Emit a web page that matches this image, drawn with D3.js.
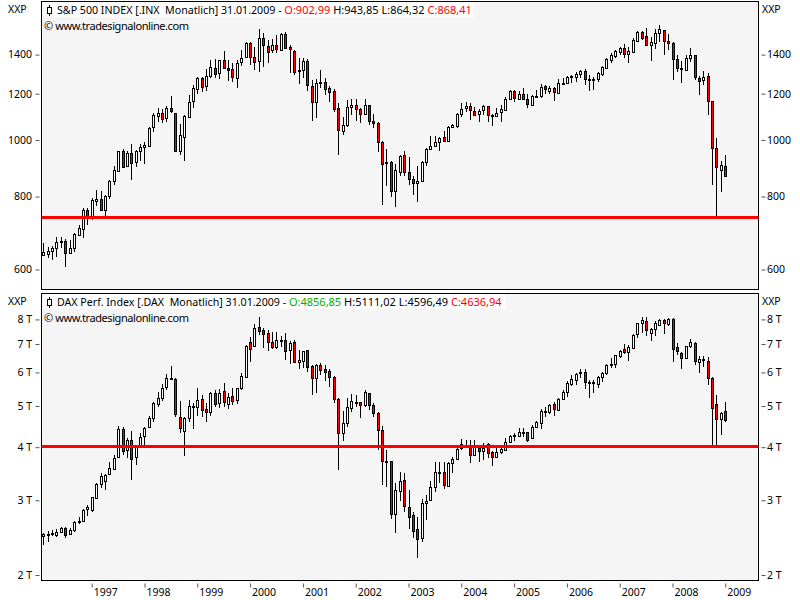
<!DOCTYPE html>
<html>
<head>
<meta charset="utf-8">
<script src="https://cdnjs.cloudflare.com/ajax/libs/d3/7.8.5/d3.min.js"></script>
<style>
  html, body { margin: 0; padding: 0; background: #fff; }
  svg { display: block; }
  text { font-family: "Noto Sans", "Open Sans", sans-serif; font-size: 10.5px; fill: #000; }
</style>
</head>
<body>
<div id="chart"></div>
<script>
// monthly bars, Feb 1996 to Jan 2009
const N_BARS = 156;
const YEAR_LABELS = ['1997', '1998', '1999', '2000', '2001', '2002', '2003', '2004', '2005', '2006', '2007', '2008', '2009'];
const YEAR_BARS = [11, 23, 35, 47, 59, 71, 83, 95, 107, 119, 131, 143, 155];

// S&P 500
const spxOpen = [635,639,646,654,668,672,639,652,687,704,759,739,787,792,757,803,849,884,958,901,950,915,956,972,979,1051,1100,1111,1087,1132,1111,956,1013,1096,1163,1226,1278,1234,1283,1329,1298,1368,1326,1321,1278,1361,1384,1467,1388,1363,1492,1450,1421,1452,1425,1516,1440,1421,1314,1314,1363,1236,1160,1250,1255,1226,1211,1132,1037,1061,1137,1146,1128,1105,1146,1076,1069,993,913,916,816,883,942,881,857,842,849,916,965,975,990,1011,998,1051,1058,1108,1131,1141,1123,1105,1121,1141,1100,1100,1115,1126,1174,1211,1177,1200,1177,1149,1186,1189,1236,1215,1226,1203,1245,1250,1280,1280,1298,1310,1268,1270,1273,1296,1327,1372,1392,1410,1435,1400,1416,1478,1530,1506,1452,1467,1522,1540,1475,1463,1374,1326,1322,1383,1396,1277,1267,1285,1165,967,888,902.99];
const spxHigh = [665,656,658,681,681,676,674,692,715,764,764,795,822,818,805,855,903,958,966,956,985,962,985,990,1051,1111,1132,1128,1144,1190,1114,1065,1103,1193,1242,1280,1280,1321,1370,1374,1370,1420,1370,1352,1370,1425,1469,1473,1444,1548,1526,1482,1486,1512,1522,1528,1454,1425,1384,1379,1374,1267,1270,1317,1275,1237,1221,1155,1096,1171,1175,1175,1132,1175,1147,1108,1072,995,965,920,910,944,958,935,866,901,922,969,1016,1016,1013,1037,1057,1064,1114,1155,1160,1158,1140,1128,1147,1143,1106,1132,1147,1186,1218,1218,1213,1226,1200,1196,1218,1245,1242,1237,1234,1270,1275,1287,1291,1308,1317,1321,1291,1283,1308,1338,1384,1407,1425,1440,1459,1440,1492,1536,1538,1552,1502,1546,1572,1542,1516,1469,1398,1366,1398,1435,1398,1287,1312,1303,1166,1007,921,943.85];
const spxLow = [632,627,622,631,652,606,637,642,686,678,715,730,771,757,741,793,838,883,897,901,855,899,919,910,979,1030,1075,1071,1075,1111,956,941,922,1096,1135,1198,1209,1215,1275,1275,1272,1322,1264,1258,1229,1340,1384,1343,1317,1308,1335,1355,1410,1410,1421,1429,1303,1291,1247,1275,1215,1079,1092,1226,1193,1163,1118,944,1020,1054,1103,1079,1068,1103,1061,1047,952,775,833,800,769,866,866,838,805,784,847,903,962,971,958,990,998,1050,1047,1096,1118,1082,1103,1075,1103,1075,1057,1096,1075,1125,1174,1163,1175,1171,1132,1143,1182,1180,1198,1200,1168,1198,1242,1245,1250,1258,1275,1242,1215,1218,1258,1287,1322,1352,1384,1398,1379,1357,1407,1473,1482,1450,1365,1431,1473,1398,1425,1267,1308,1253,1321,1361,1267,1193,1242,1103,838,741,816,864.32];
const spxClose = [642,646,654,670,671,641,652,689,706,758,737,790,792,757,801,851,888,956,901,950,915,956,972,981,1049,1102,1111,1087,1132,1117,956,1019,1099,1163,1226,1278,1234,1285,1331,1298,1368,1326,1315,1278,1357,1384,1465,1388,1363,1492,1450,1416,1452,1429,1518,1433,1427,1308,1317,1363,1239,1160,1250,1255,1220,1209,1129,1037,1061,1137,1146,1126,1106,1146,1075,1067,990,912,915,816,888,940,882,857,842,849,916,965,976,992,1007,994,1053,1061,1109,1128,1141,1122,1105,1119,1141,1100,1103,1114,1128,1174,1211,1177,1200,1177,1153,1191,1191,1231,1221,1228,1207,1250,1250,1280,1287,1295,1312,1270,1272,1273,1302,1333,1374,1398,1418,1435,1400,1418,1482,1530,1496,1452,1469,1526,1546,1475,1461,1374,1326,1321,1384,1398,1278,1264,1280,1163,969,897,905,868.41];

// DAX
const daxOpen = [2463,2494,2494,2494,2522,2577,2499,2545,2662,2686,2856,2836,3031,3265,3319,3447,3542,3787,4409,3927,4153,3801,4013,4260,4473,4672,5059,5236,5528,5814,5803,4706,4353,4706,4977,4959,5189,4915,4835,5360,5068,5419,5059,5274,5151,5498,5856,7069,6904,7695,7557,7422,7069,6867,7145,7171,6792,7069,6341,6410,6768,6205,5814,6239,6105,6039,5846,5189,4306,4547,4968,5104,5104,5013,5360,5022,4809,4385,3699,3706,2775,3149,3343,2898,2770,2563,2436,2951,2995,3218,3485,3491,3248,3659,3740,3977,4027,4013,3842,3977,3919,4071,3891,3780,3884,3955,4100,4252,4237,4322,4338,4191,4449,4571,4835,4826,5050,4906,5189,5389,5639,5762,5974,6006,5690,5680,5639,5835,5985,6228,6284,6563,6804,6695,6879,7369,7836,7922,7422,7584,7765,7965,7807,8008,6879,6659,6480,6929,7056,6364,6422,6376,5835,5050,4655,4856.85];
const daxHigh = [2508,2545,2554,2563,2591,2600,2577,2686,2745,2856,2925,3059,3289,3472,3460,3699,3835,4489,4473,4199,4369,4049,4314,4473,4740,5123,5409,5639,5952,6216,5825,5142,4723,5170,5077,5508,5312,5077,5389,5458,5478,5659,5360,5508,5528,5995,6967,7263,7807,8095,7626,7557,7462,7489,7316,7449,7119,7158,6780,6756,6768,6239,6284,6307,6250,6105,5888,5217,4870,5217,5341,5312,5123,5458,5380,5077,4835,4489,3941,3713,3301,3491,3479,3172,2810,2735,3014,3087,3331,3686,3686,3699,3699,3801,4013,4184,4161,4161,4161,4049,4086,4100,3927,4013,4049,4199,4275,4330,4433,4433,4353,4514,4621,4915,4986,5050,5123,5217,5458,5741,5920,5974,6105,6105,5762,5762,5888,6028,6284,6480,6599,6780,6992,6967,7382,7836,8095,8095,7653,7950,8008,8023,8051,8051,7030,6719,6942,7184,7069,6563,6563,6515,5846,5312,4835,5111.02];
const daxLow = [2354,2396,2472,2463,2517,2440,2485,2531,2638,2672,2755,2820,3020,3200,3172,3441,3536,3780,3835,3780,3349,3633,3977,4013,4473,4596,4986,5151,5458,5762,4723,4330,3821,4596,4417,4740,4723,4588,4740,4986,4959,4986,4924,5032,5059,5458,5814,6364,6879,7355,6867,6743,6804,6804,6879,6422,6272,6330,6105,6138,6028,5312,5360,5920,5741,5538,5095,3536,4146,4473,4853,4968,4697,4986,4897,4723,3941,3260,3230,2711,2517,2995,2820,2567,2440,2197,2396,2696,2995,3132,3289,3189,3218,3472,3733,3941,3977,3680,3835,3699,3733,3767,3620,3780,3856,3941,4086,4146,4237,4237,4123,4184,4441,4417,4706,4792,4740,4879,5170,5264,5588,5608,5814,5488,5236,5360,5528,5710,5920,6161,6161,6504,6623,6387,6867,7250,7449,7316,7132,7329,7723,7396,7737,6364,6599,6116,6469,6867,6250,5974,6194,5608,4020,4020,4275,4596.49];
const daxClose = [2494,2503,2512,2531,2577,2485,2549,2662,2677,2851,2888,3048,3277,3416,3435,3568,3767,4409,3905,4153,3740,4013,4222,4441,4689,5077,5217,5528,5814,5835,4800,4433,4680,5013,4995,5160,4879,4844,5360,5041,5360,5095,5245,5123,5508,5878,6917,6804,7626,7543,7382,7069,6867,7145,7171,6768,7043,6341,6410,6756,6172,5814,6239,6072,6018,5846,5189,4306,4555,4968,5151,5123,5013,5389,5013,4800,4377,3699,3713,2775,3166,3325,2898,2745,2545,2423,2951,2984,3218,3491,3497,3248,3673,3747,3955,4063,4049,3842,4013,3905,3992,3884,3787,3891,3955,4123,4245,4283,4338,4338,4161,4457,4580,4879,4862,5022,4915,5198,5389,5659,5783,5942,6006,5680,5710,5700,5846,5974,6239,6272,6587,6756,6683,6879,7369,7836,7965,7530,7584,7836,7965,7836,8008,6792,6719,6492,6929,7069,6399,6457,6457,5814,4968,4655,4818,4636.94];

const PANEL_LEFT = 41.5;
const PANEL_RIGHT = 758.5;
const TEXT_GREEN = '#00b000';

const panels = [
  {
    top: 1.5, bottom: 289.5,
    domain: [554.5, 1726],
    ticks: [600, 800, 1000, 1200, 1400],
    tickFormat: (d) => `${d}`,
    level: 737,
    open: spxOpen, high: spxHigh, low: spxLow, close: spxClose,
    legendWidth: 431,
    legend: [['S&P 500 INDEX [.INX  Monatlich] 31.01.2009 - ', '#000'], ['O:902,99 ', '#f00'], ['H:943,85 L:864,32 ', '#000'], ['C:868,41', '#f00']],
  },
  {
    top: 293.5, bottom: 580.5,
    domain: [1941, 9207],
    ticks: [2000, 3000, 4000, 5000, 6000, 7000, 8000],
    tickFormat: (d) => `${d / 1000} T`,
    level: 4014,
    open: daxOpen, high: daxHigh, low: daxLow, close: daxClose,
    legendWidth: 463,
    legend: [['DAX Perf. Index [.DAX  Monatlich] 31.01.2009 - ', '#000'], ['O:4856,85 ', TEXT_GREEN], ['H:5111,02 L:4596,49 ', '#000'], ['C:4636,94', '#f00']],
  },
];

const svg = d3.select('#chart').append('svg').attr('width', 800).attr('height', 600);

const x = d3.scaleLinear().domain([0, N_BARS - 1]).range([43.3, 725.3]);
const barX = (i) => Math.round(x(i)) + 0.5;

panels.forEach((p) => {
  const y = d3.scaleLog().domain(p.domain).range([p.bottom, p.top]);
  const g = svg.append('g');

  g.append('rect')
    .attr('x', PANEL_LEFT)
    .attr('y', p.top)
    .attr('width', PANEL_RIGHT - PANEL_LEFT)
    .attr('height', p.bottom - p.top)
    .attr('fill', '#f5f5f5')
    .attr('stroke', '#000');

  // candles
  const bars = g.selectAll('g.bar').data(d3.range(N_BARS)).enter().append('g').attr('class', 'bar');
  bars.append('line')
    .attr('x1', barX)
    .attr('x2', barX)
    .attr('y1', (i) => Math.round(y(p.high[i])))
    .attr('y2', (i) => Math.round(y(p.low[i])))
    .attr('stroke', '#000');
  bars.append('rect')
    .attr('x', (i) => barX(i) - 1)
    .attr('width', 2)
    .attr('y', (i) => Math.round(y(Math.max(p.open[i], p.close[i]))) + 0.5)
    .attr('height', (i) => Math.max(1, Math.round(Math.abs(y(p.open[i]) - y(p.close[i])))))
    .attr('fill', (i) => (p.close[i] < p.open[i] ? '#f00' : '#fff'))
    .attr('stroke', '#000');

  // support level
  g.append('line')
    .attr('x1', PANEL_LEFT)
    .attr('x2', PANEL_RIGHT)
    .attr('y1', Math.floor(y(p.level)) + 0.5)
    .attr('y2', Math.floor(y(p.level)) + 0.5)
    .attr('stroke', '#f00')
    .attr('stroke-width', 3);

  // y axes
  [
    { axis: d3.axisLeft(y), tx: 39.5, padding: 3.5 },
    { axis: d3.axisRight(y), tx: 761.5, padding: 1.5 },
  ].forEach(({ axis, tx, padding }) => {
    const ag = g.append('g')
      .attr('transform', `translate(${tx},0)`)
      .call(axis.tickValues(p.ticks).tickFormat(p.tickFormat).tickSize(4).tickPadding(padding));
    ag.select('.domain').remove();
    ag.selectAll('.tick line').attr('stroke', '#555');
    ag.selectAll('.tick text').style('font-size', '10.5px');
  });

  g.append('text').attr('x', 8).attr('y', p.top + 11.5).text('XXP');
  g.append('text').attr('x', 762).attr('y', p.top + 11.5).text('XXP');

  // legend
  g.append('rect')
    .attr('x', PANEL_LEFT + 1)
    .attr('y', p.top + 0.5)
    .attr('width', p.legendWidth)
    .attr('height', 15)
    .attr('fill', '#fff');
  const iconX = 49.5;
  g.append('line')
    .attr('x1', iconX).attr('x2', iconX)
    .attr('y1', p.top + 3.5).attr('y2', p.top + 14.5)
    .attr('stroke', '#000');
  g.append('rect')
    .attr('x', iconX - 2).attr('y', p.top + 6)
    .attr('width', 4).attr('height', 6)
    .attr('fill', '#fff').attr('stroke', '#000');
  const legendText = g.append('text').attr('x', 57).attr('y', p.top + 12.5);
  legendText.selectAll('tspan').data(p.legend).enter().append('tspan')
    .style('white-space', 'pre')
    .style('font-size', (d, i) => (i === 0 ? '10.65px' : '11px'))
    .style('fill', (d) => d[1])
    .text((d) => d[0]);
  g.append('text')
    .attr('x', 44)
    .attr('y', p.top + 28)
    .attr('textLength', 145)
    .style('font-size', '11px')
    .text('\u00a9 www.tradesignalonline.com');
});

// time axis under the lower panel
const timeAxis = svg.append('g')
  .attr('transform', 'translate(0,583.5)')
  .call(d3.axisBottom(x).tickValues(YEAR_BARS)
    .tickFormat((d) => YEAR_LABELS[YEAR_BARS.indexOf(d)])
    .tickSize(4).tickPadding(1));
timeAxis.select('.domain').remove();
timeAxis.selectAll('.tick line').attr('stroke', '#555');
timeAxis.selectAll('.tick text')
  .attr('text-anchor', 'start')
  .attr('dx', 1.5)
  .style('font-size', '10.5px');
</script>
</body>
</html>
